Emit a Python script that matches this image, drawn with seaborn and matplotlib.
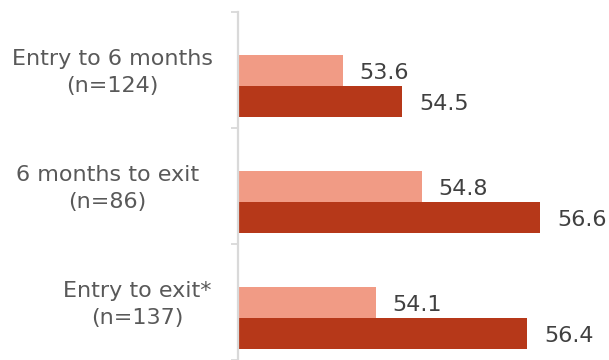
import matplotlib
matplotlib.use("Agg")
import matplotlib.pyplot as plt
import matplotlib.transforms as mtransforms
import seaborn as sns
import pandas as pd

categories = ["Entry to 6 months\n(n=124)", "6 months to exit\n(n=86)", "Entry to exit*\n(n=137)"]
series = ["First", "Second"]
first_values = [53.6, 54.8, 54.1]
second_values = [54.5, 56.6, 56.4]

light = "#F19B85"
dark = "#B63819"

rows = []
for c, a, b in zip(categories, first_values, second_values):
    rows.append({"category": c, "series": series[0], "value": a})
    rows.append({"category": c, "series": series[1], "value": b})
df = pd.DataFrame(rows)

sns.set_theme(style="white")
plt.rcParams["font.family"] = ["DejaVu Sans"]

fig = plt.figure(figsize=(6.09, 3.6), dpi=100)
ax = fig.add_axes([237.5 / 609, 0, (609 - 237.5) / 609, 348 / 360])

sns.barplot(data=df, y="category", x="value", hue="series", orient="h",
            order=categories, hue_order=series, palette=[light, dark],
            width=0.534, gap=0, ax=ax, legend=False, saturation=1,
            linewidth=0, edgecolor="none")

ax.set_xlim(52, 52 + (609 - 237.5) / 65.77)
ax.set_ylim(2.36, -0.64)

for cont in ax.containers:
    anns = ax.bar_label(cont, fmt="%.1f", padding=12.2, fontsize=16, color="#404040")
    for a in anns:
        a.xyann = (12.2, -1.5)

for s in ["top", "right", "bottom"]:
    ax.spines[s].set_visible(False)
ax.spines["left"].set_color("#D9D9D9")
ax.spines["left"].set_linewidth(1.6)

ax.set_xticks([])
ax.set_yticks([-0.64, 0.36, 1.36, 2.36])
ax.set_yticklabels([])
ax.tick_params(axis="y", which="major", length=5, width=1.3, color="#D9D9D9",
               direction="out", left=True)
ax.set_xlabel("")
ax.set_ylabel("")

# category labels, centered text to the left of the axis
label_offsets_px = [-125, -130, -100]
for i, (c, off) in enumerate(zip(categories, label_offsets_px)):
    trans = mtransforms.blended_transform_factory(ax.transAxes, ax.transData) + \
        mtransforms.ScaledTranslation(off / 100, 0, fig.dpi_scale_trans)
    ax.text(0, i - 0.12, c, transform=trans, ha="center", va="center",
            multialignment="center", fontsize=16, color="#595959",
            linespacing=1.4, clip_on=False)

fig.savefig("out.png", dpi=100)
